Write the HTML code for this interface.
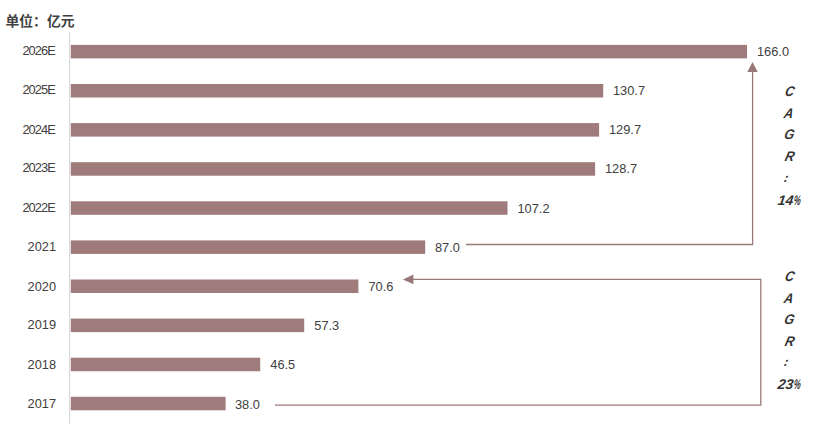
<!DOCTYPE html>
<html lang="zh-CN">
<head>
<meta charset="utf-8">
<title>单位：亿元</title>
<style>
  html, body { margin: 0; padding: 0; background: #ffffff; }
  body { width: 814px; height: 427px; overflow: hidden; position: relative; }
  .t { position: absolute; white-space: nowrap; color: #404040;
       font-family: "Liberation Sans", "Noto Sans CJK SC", sans-serif; font-size: 12.8px; line-height: 14px; }
  .title { position: absolute; left: 5.5px; top: 11.5px; white-space: nowrap; color: #404040;
       font-family: "Liberation Sans", "Noto Sans CJK SC", sans-serif; font-size: 13.8px; font-weight: bold; line-height: 20px; }
  .cat { right: 758px; text-align: right; }
  .e { letter-spacing: -0.9px; right: 759.1px; }
  .cg { position: absolute; white-space: nowrap; color: #333333; font-family: "Liberation Sans", "Noto Sans CJK SC", sans-serif;
       font-size: 14px; font-weight: bold; font-style: italic; line-height: 16px; transform: skewX(-8deg); }
  .cg.l { transform: skewX(-13deg) scaleX(0.9); }
  .cg .c { font-size: 9.5px; font-weight: 900; }
  .cg .p { display: inline-block; transform: scaleX(0.56); transform-origin: 0 50%; width: 7px; }
  svg { position: absolute; left: 0; top: 0; }
</style>
</head>
<body>
<svg width="814" height="427" viewBox="0 0 814 427">
  <rect x="69" y="32" width="1.2" height="392" fill="#d9d9d9"/>
  <g fill="#9f7b7b">
    <rect x="70.8" y="44.9" width="676.2" height="13.5"/>
    <rect x="70.8" y="84.0" width="532.4" height="13.5"/>
    <rect x="70.8" y="123.1" width="528.3" height="13.5"/>
    <rect x="70.8" y="162.2" width="524.3" height="13.5"/>
    <rect x="70.8" y="201.3" width="436.7" height="13.5"/>
    <rect x="70.8" y="240.4" width="354.4" height="13.5"/>
    <rect x="70.8" y="279.5" width="287.6" height="13.5"/>
    <rect x="70.8" y="318.6" width="233.4" height="13.5"/>
    <rect x="70.8" y="357.7" width="189.4" height="13.5"/>
    <rect x="70.8" y="396.8" width="154.8" height="13.5"/>
  </g>
  <g fill="none" stroke="#9a7878" stroke-width="1.3">
    <polyline points="466,244.5 752.6,244.5 752.6,71"/>
    <polyline points="275,405.2 760.8,405.2 760.8,279.4 412,279.4"/>
  </g>
  <g fill="#9a7878">
    <polygon points="752.5,62 747.3,72 757.7,72"/>
    <polygon points="402.9,279.4 413.4,274.5 413.4,284.3"/>
  </g>
</svg>

<div class="title">单位：亿元</div>

<div class="t cat e" style="top:44px">2026E</div>
<div class="t cat e" style="top:83px">2025E</div>
<div class="t cat e" style="top:123px">2024E</div>
<div class="t cat e" style="top:161px">2023E</div>
<div class="t cat e" style="top:201px">2022E</div>
<div class="t cat" style="top:240px">2021</div>
<div class="t cat" style="top:280px">2020</div>
<div class="t cat" style="top:318px">2019</div>
<div class="t cat" style="top:358px">2018</div>
<div class="t cat" style="top:397px">2017</div>

<div class="t" style="left:757px;top:45px">166.0</div>
<div class="t" style="left:613px;top:84px">130.7</div>
<div class="t" style="left:609px;top:123px">129.7</div>
<div class="t" style="left:605px;top:162px">128.7</div>
<div class="t" style="left:517.5px;top:202px">107.2</div>
<div class="t" style="left:435px;top:241px">87.0</div>
<div class="t" style="left:368.5px;top:280px">70.6</div>
<div class="t" style="left:314.3px;top:319px">57.3</div>
<div class="t" style="left:270.3px;top:358px">46.5</div>
<div class="t" style="left:235px;top:398px">38.0</div>

<div class="cg l" style="left:785px;top:83px">C</div>
<div class="cg l" style="left:784px;top:105px">A</div>
<div class="cg l" style="left:784px;top:126px">G</div>
<div class="cg l" style="left:785px;top:148px">R</div>
<div class="cg" style="left:783px;top:169px"><span class="c">：</span></div>
<div class="cg" style="left:778px;top:192px">14<span class="p">%</span></div>
<div class="cg l" style="left:785px;top:268px">C</div>
<div class="cg l" style="left:784px;top:290px">A</div>
<div class="cg l" style="left:784px;top:311px">G</div>
<div class="cg l" style="left:785px;top:333px">R</div>
<div class="cg" style="left:783px;top:352.5px"><span class="c">：</span></div>
<div class="cg" style="left:778px;top:376px">23<span class="p">%</span></div>
</body>
</html>
